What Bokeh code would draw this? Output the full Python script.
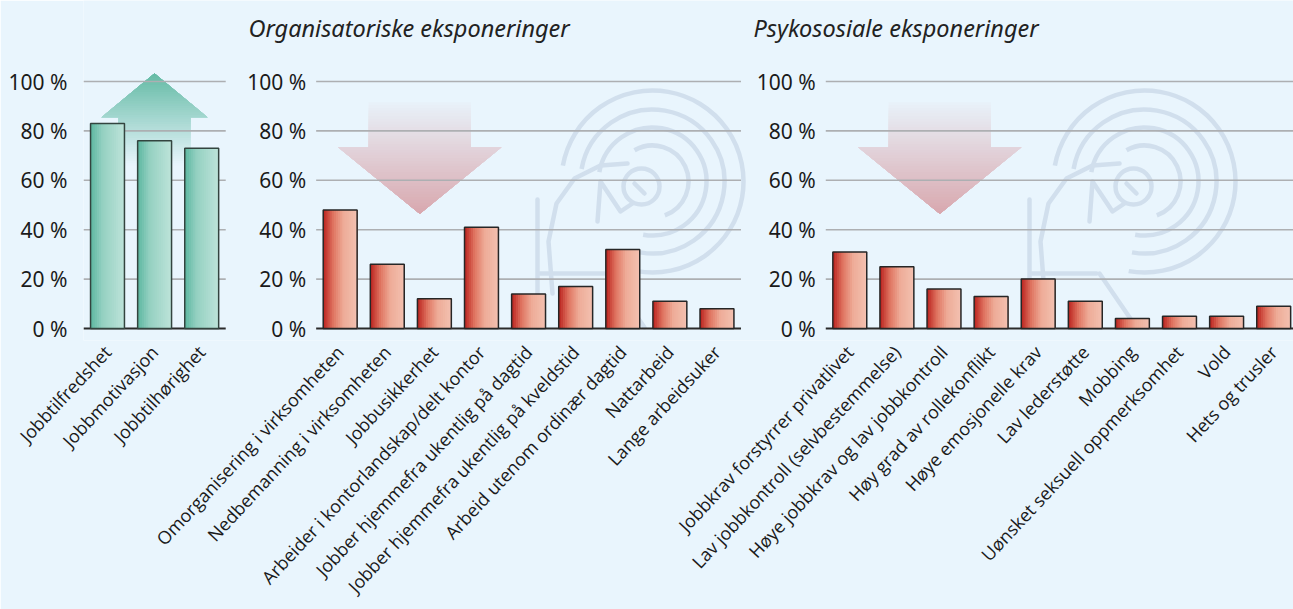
import numpy as np
from bokeh.plotting import figure
from bokeh.models import Range1d, FixedTicker, PrintfTickFormatter
from bokeh.embed import file_html
from bokeh.resources import INLINE
from bokeh.core.properties import value

# ---------------- data ----------------
cats_1 = ["Jobbtilfredshet", "Jobbmotivasjon", "Jobbtilhørighet"]
vals_1 = [83, 76, 73]

cats_2 = ["Omorganisering i virksomheten", "Nedbemanning i virksomheten", "Jobbusikkerhet",
          "Arbeider i kontorlandskap/delt kontor", "Jobber hjemmefra ukentlig på dagtid",
          "Jobber hjemmefra ukentlig på kveldstid", "Arbeid utenom ordinær dagtid",
          "Nattarbeid", "Lange arbeidsuker"]
vals_2 = [48, 26, 12, 41, 14, 17, 32, 11, 8]

cats_3 = ["Jobbkrav forstyrrer privatlivet", "Lav jobbkontroll (selvbestemmelse)",
          "Høye jobbkrav og lav jobbkontroll", "Høy grad av rollekonflikt",
          "Høye emosjonelle krav", "Lav lederstøtte", "Mobbing",
          "Uønsket seksuell oppmerksomhet", "Vold", "Hets og trusler"]
vals_3 = [31, 25, 16, 13, 20, 11, 4, 5, 5, 9]

titles = ["Organisatoriske eksponeringer", "Psykososiale eksponeringer"]
y_ticks = [0, 20, 40, 60, 80, 100]

# ---------------- layout helpers ----------------
BG = "#e9f5fd"
BG_RGB = np.array([233, 245, 253], dtype=float)
W, H = 1293, 609
PXX = 0.471          # px per x unit (100 units per category slot)
PXY = 2.47           # px per percent
X0P, Y0P = 107.0, 328.0   # page position of x=0, y=0
FRAME_L, FRAME_B = 83, 340
SLOT = 100
BAR_W = 72


def px2x(px):
    return (px - X0P) / PXX


def px2y(py):
    return (Y0P - py) / PXY


offsets = [0, 494, 1576]
panels = [(cats_1, vals_1, "green"), (cats_2, vals_2, "red"), (cats_3, vals_3, "red")]
X_START, X_END = px2x(FRAME_L), px2x(W)

p = figure(width=W, height=H,
           x_range=Range1d(X_START, X_END), y_range=Range1d(px2y(FRAME_B), px2y(0)),
           output_backend="svg", toolbar_location=None,
           min_border_left=FRAME_L, min_border_right=0, min_border_top=0,
           min_border_bottom=H - FRAME_B,
           background_fill_color=BG, border_fill_color=BG, outline_line_color=None)
p.grid.visible = False


def blend(rgb, a):
    c = BG_RGB * (1 - a) + np.array(rgb, dtype=float) * a
    return "#%02x%02x%02x" % tuple(int(round(v)) for v in c)


# ---------------- watermark ----------------
WM = "#d1dfed"


def watermark(cxp, cyp):
    cx, cy = px2x(cxp), px2y(cyp)
    for r in [91, 72, 54]:
        p.arc(x=cx, y=cy, radius=r, radius_units="screen", start_angle=np.deg2rad(-100),
              end_angle=np.deg2rad(170), direction="anticlock", line_color=WM, line_width=4.5)
    p.arc(x=cx, y=cy, radius=36, radius_units="screen", start_angle=np.deg2rad(-70),
          end_angle=np.deg2rad(120), direction="anticlock", line_color=WM, line_width=4.5)
    p.circle(x=px2x(cxp - 11), y=px2y(cyp + 5), radius=18, radius_units="screen",
             fill_color=None, line_color=WM, line_width=4.5)
    shapes = [
        [(-115, 18), (-115, 146)],
        [(-113, 92), (-48, 92)],
        [(-100, 112), (-104, 60), (-96, 22), (-78, -3), (-52, -16), (-25, -18)],
        [(-55, 40), (-52, 0), (-32, 30), (-20, 22)],
        [(-45, 92), (-8, 146)],
        [(-8, 12), (-18, 2)],
    ]
    for s in shapes:
        p.line(x=[px2x(cxp + a) for a, b in s], y=[px2y(cyp + b) for a, b in s],
               line_color=WM, line_width=4.5, line_cap="round", line_join="round")


watermark(652, 181)
watermark(1144, 181)


# ---------------- arrows (gradient by stacked bands) ----------------
def arrow(cxp, tip, hb, end, head_hw, shaft_hw, rgb, a_tip, a_end, n=40):
    xs, ys, cols = [], [], []
    L = abs(hb - tip)
    for k in range(n):
        cut = end + (tip - end) * k / n
        d = abs(cut - tip)
        if d <= L:
            w = head_hw * d / L
            pts = [(cxp - w, cut), (cxp, tip), (cxp + w, cut)]
        else:
            pts = [(cxp - shaft_hw, cut), (cxp - shaft_hw, hb), (cxp - head_hw, hb), (cxp, tip),
                   (cxp + head_hw, hb), (cxp + shaft_hw, hb), (cxp + shaft_hw, cut)]
        xs.append([px2x(a) for a, b in pts])
        ys.append([px2y(b) for a, b in pts])
        t = (k + 0.5) / n
        cols.append(blend(rgb, a_end + (a_tip - a_end) * t))
    p.patches(xs=xs, ys=ys, fill_color=cols, line_color=None)


arrow(154, 73, 116.7, 165, 53, 36, (85, 180, 155), 0.9, 0.0)
arrow(419.3, 213.3, 146.7, 101.7, 81.7, 51.2, (200, 90, 95), 0.5, 0.02)
arrow(939.3, 213.3, 146.7, 101.7, 81.7, 51.2, (200, 90, 95), 0.5, 0.02)

# ---------------- grid lines and baselines ----------------
panel_l = [off - SLOT * 0.51 for off in offsets]
panel_r = [offsets[0] + SLOT * (len(cats_1) - 1) + SLOT * 0.51,
           offsets[1] + SLOT * (len(cats_2) - 1) + SLOT * 0.51,
           X_END]
g_x0, g_x1, g_y = [], [], []
for l, r in zip(panel_l, panel_r):
    for t in y_ticks[1:]:
        g_x0.append(l); g_x1.append(r); g_y.append(t)
p.segment(x0=g_x0, x1=g_x1, y0=g_y, y1=g_y, line_color="#adafb2", line_width=1.6)
p.segment(x0=panel_l, x1=panel_r, y0=[0] * 3, y1=[0] * 3, line_color="#2a2a2a", line_width=2)

# ---------------- bars with horizontal gradient ----------------
STOPS = {
    "red": [(0.0, (186, 34, 30)), (0.3, (224, 118, 98)), (0.6, (238, 172, 152)), (1.0, (243, 193, 177))],
    "green": [(0.0, (92, 183, 160)), (0.35, (148, 208, 193)), (1.0, (190, 228, 218))],
}


def interp(stops, t):
    for (t0, c0), (t1, c1) in zip(stops[:-1], stops[1:]):
        if t <= t1:
            f = (t - t0) / (t1 - t0)
            c = [c0[i] + (c1[i] - c0[i]) * f for i in range(3)]
            return "#%02x%02x%02x" % tuple(int(round(v)) for v in c)
    return "#%02x%02x%02x" % stops[-1][1]


N = 16
tick_pos, tick_lab = [], {}
for (cats, vals, kind), off in zip(panels, offsets):
    xc = [off + SLOT * i for i in range(len(cats))]
    L, R, T, C = [], [], [], []
    for k in range(N):
        col = interp(STOPS[kind], (k + 0.5) / N)
        for x, v in zip(xc, vals):
            L.append(x - BAR_W / 2 + k * BAR_W / N)
            R.append(x + BAR_W / 2)
            T.append(v)
            C.append(col)
    p.quad(left=L, right=R, top=T, bottom=0, fill_color=C, line_color=None)
    p.quad(left=[x - BAR_W / 2 for x in xc], right=[x + BAR_W / 2 for x in xc], top=vals, bottom=0,
           fill_color=None, line_color="#262626" if kind == "red" else "#33443f", line_width=1.5)
    for x, c in zip(xc, cats):
        tick_pos.append(x)
        tick_lab[x] = c

# ---------------- y labels of panels 2 and 3 ----------------
for l in panel_l[1:]:
    p.text(x=[l] * len(y_ticks), y=y_ticks, text=[f"{t} %" for t in y_ticks], x_offset=-10,
           text_align="right", text_baseline="middle", text_font=value("Noto Sans"),
           text_font_size="21px", text_color="#1a1a1a")

# ---------------- titles ----------------
p.text(x=[px2x(248), px2x(753)], y=[px2y(27)] * 2, text=titles, text_align="left",
       text_baseline="middle", text_font=value("Noto Sans"), text_font_style="italic",
       text_font_size="23.5px", text_color="#222222")

# ---------------- axes ----------------
p.yaxis.ticker = FixedTicker(ticks=y_ticks)
p.yaxis.formatter = PrintfTickFormatter(format="%d %%")
p.yaxis.axis_line_color = None
p.yaxis.major_tick_line_color = None
p.yaxis.minor_tick_line_color = None
p.yaxis.major_label_standoff = 10
p.yaxis.major_label_text_font = "Noto Sans"
p.yaxis.major_label_text_font_size = "21px"
p.yaxis.major_label_text_color = "#1a1a1a"

p.xaxis.ticker = FixedTicker(ticks=tick_pos)
p.xaxis.major_label_overrides = tick_lab
p.xaxis.major_label_orientation = np.deg2rad(47)
p.xaxis.axis_line_color = None
p.xaxis.major_tick_line_color = None
p.xaxis.minor_tick_line_color = None
p.xaxis.major_label_standoff = 2
p.xaxis.major_label_text_font = "Open Sans"
p.xaxis.major_label_text_font_size = "18px"
p.xaxis.major_label_text_color = "#1a1a1a"

html = file_html(p, INLINE)
html = html.replace("<body>", '<body style="background-color:%s;">' % BG, 1)
open("out.html", "w").write(html)
